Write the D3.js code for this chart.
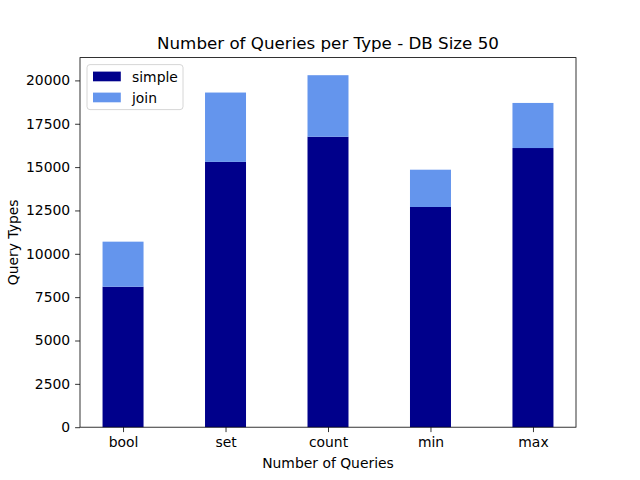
<!DOCTYPE html>
<html>
<head>
<meta charset="utf-8">
<script src="https://cdn.jsdelivr.net/npm/d3@7"></script>
<style>
  body { margin: 0; background: #fff; }
  svg { font-family: "DejaVu Sans", sans-serif; }
</style>
</head>
<body>
<div id="chart"></div>
<script>
// chart data
var categories = ["bool", "set", "count", "min", "max"];
var simpleValues = [8100, 15300, 16750, 12700, 16100];
var joinValues = [2600, 4000, 3550, 2150, 2600];
var yTicks = [0, 2500, 5000, 7500, 10000, 12500, 15000, 17500, 20000];

var margin = {top: 57.6, right: 64, bottom: 52.8, left: 80},
    width = 640 - margin.left - margin.right,
    height = 480 - margin.top - margin.bottom;

var svg = d3.select("#chart").append("svg")
    .attr("width", 640)
    .attr("height", 480)
    .append("g")
    .attr("transform", "translate(" + margin.left + "," + margin.top + ")");

var barWidth = 0.4;
var n = categories.length;
var pad = (n - 1 + barWidth) * 0.05;

var x = d3.scaleLinear()
    .domain([-barWidth / 2 - pad, n - 1 + barWidth / 2 + pad])
    .range([0, width]);

var yMax = d3.max(simpleValues.map((d, i) => d + joinValues[i])) * 1.05;
var y = d3.scaleLinear()
    .domain([0, yMax])
    .range([height, 0]);

// bars: simple at bottom, join stacked on top
svg.append("g")
    .selectAll("rect")
    .data(simpleValues)
    .enter().append("rect")
    .attr("x", (d, i) => x(i - barWidth / 2))
    .attr("width", (d, i) => x(i + barWidth / 2) - x(i - barWidth / 2))
    .attr("y", d => y(d))
    .attr("height", d => y(0) - y(d))
    .attr("fill", "#00008b");

svg.append("g")
    .selectAll("rect")
    .data(joinValues)
    .enter().append("rect")
    .attr("x", (d, i) => x(i - barWidth / 2))
    .attr("width", (d, i) => x(i + barWidth / 2) - x(i - barWidth / 2))
    .attr("y", (d, i) => y(simpleValues[i] + d))
    .attr("height", d => y(0) - y(d))
    .attr("fill", "#6495ed");

// axes
var xAxis = svg.append("g")
    .attr("transform", "translate(0," + height + ")")
    .call(d3.axisBottom(x)
        .tickValues(d3.range(n))
        .tickFormat(i => categories[i])
        .tickSize(4.9)
        .tickPadding(4.9)
        .tickSizeOuter(0));

var yAxis = svg.append("g")
    .call(d3.axisLeft(y)
        .tickValues(yTicks)
        .tickFormat(d3.format("d"))
        .tickSize(4.9)
        .tickPadding(4.9)
        .tickSizeOuter(0));

[xAxis, yAxis].forEach(a => {
    a.select(".domain").remove();
    a.selectAll("text")
        .style("font-family", "DejaVu Sans")
        .style("font-size", "13.9px")
        .attr("fill", "#000");
    a.selectAll("line").attr("stroke", "#000").attr("stroke-width", 0.8);
});

// frame
svg.append("rect")
    .attr("width", width)
    .attr("height", height)
    .attr("fill", "none")
    .attr("stroke", "#000")
    .attr("stroke-width", 0.8);

// title and labels
svg.append("text")
    .attr("x", width / 2)
    .attr("y", -8.5)
    .attr("text-anchor", "middle")
    .style("font-size", "16.7px")
    .text("Number of Queries per Type - DB Size 50");

svg.append("text")
    .attr("x", width / 2)
    .attr("y", height + 41)
    .attr("text-anchor", "middle")
    .style("font-size", "13.9px")
    .text("Number of Queries");

svg.append("text")
    .attr("transform", "rotate(-90)")
    .attr("x", -height / 2)
    .attr("y", -62)
    .attr("text-anchor", "middle")
    .style("font-size", "13.9px")
    .text("Query Types");

// legend
var legend = svg.append("g")
    .attr("transform", "translate(7,7)");

legend.append("rect")
    .attr("width", 96)
    .attr("height", 45)
    .attr("rx", 3)
    .attr("fill", "#fff")
    .attr("fill-opacity", 0.8)
    .attr("stroke", "#ccc")
    .attr("stroke-width", 0.8);

var legendItems = [["simple", "#00008b"], ["join", "#6495ed"]];
legendItems.forEach((item, i) => {
    legend.append("rect")
        .attr("x", 6)
        .attr("y", 7 + i * 21)
        .attr("width", 27.8)
        .attr("height", 9.7)
        .attr("fill", item[1]);
    legend.append("text")
        .attr("x", 45)
        .attr("y", 17 + i * 21)
        .style("font-size", "13.9px")
        .text(item[0]);
});
</script>
</body>
</html>
